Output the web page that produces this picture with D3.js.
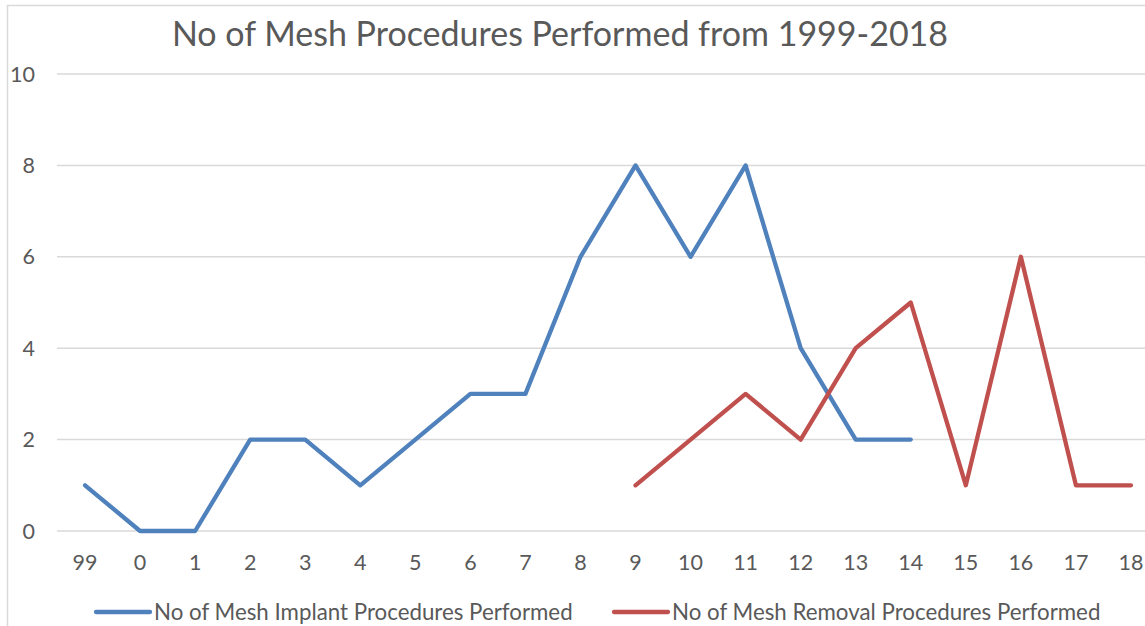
<!DOCTYPE html>
<meta charset="utf-8">
<style>
  body { margin: 0; background: #fff; }
  text { font-family: Lato, "Open Sans", sans-serif; fill: #595959; }
</style>
<svg width="1145" height="626"></svg>
<script src="https://d3js.org/d3.v7.min.js"></script>
<script>

var years = ["99", "0", "1", "2", "3", "4", "5", "6", "7", "8", "9",
             "10", "11", "12", "13", "14", "15", "16", "17", "18"];

var implants = [1, 0, 0, 2, 2, 1, 2, 3, 3, 6, 8, 6, 8, 4, 2, 2, null, null, null, null];
var removals = [null, null, null, null, null, null, null, null, null, null, 1, 2, 3, 2, 4, 5, 1, 6, 1, 1];

var yTicks = [0, 2, 4, 6, 8, 10];

var series = [
  { name: "No of Mesh Implant Procedures Performed", values: implants, color: "#4f81bd" },
  { name: "No of Mesh Removal Procedures Performed", values: removals, color: "#c0504d" }
];

var svg = d3.select("svg");

// chart frame (right and bottom fall outside the picture)
svg.append("rect")
    .attr("x", 7.5).attr("y", 5.5)
    .attr("width", 1200).attr("height", 700)
    .attr("fill", "none")
    .attr("stroke", "#d9d9d9")
    .attr("stroke-width", 1.5);

var x = d3.scaleBand()
    .domain(years)
    .range([57.5, 57.5 + 20 * 55.05]);

var y = d3.scaleLinear()
    .domain([0, 10])
    .range([531, 74]);

// gridlines
svg.append("g")
  .selectAll("line")
  .data(yTicks)
  .join("line")
    .attr("x1", 57).attr("x2", 1145)
    .attr("y1", function(d) { return y(d); })
    .attr("y2", function(d) { return y(d); })
    .attr("stroke", "#d9d9d9")
    .attr("stroke-width", 1.5);

// y labels
svg.append("g")
  .selectAll("text")
  .data(yTicks)
  .join("text")
    .attr("x", 35)
    .attr("y", function(d) { return y(d) + 7.5; })
    .attr("text-anchor", "end")
    .attr("font-size", 21.5)
    .text(function(d) { return d; });

// x labels
svg.append("g")
  .selectAll("text")
  .data(years)
  .join("text")
    .attr("x", function(d) { return x(d) + x.bandwidth() / 2; })
    .attr("y", 570)
    .attr("text-anchor", "middle")
    .attr("font-size", 21.5)
    .text(function(d) { return d; });

var line = d3.line()
    .defined(function(d) { return d != null; })
    .x(function(d, i) { return x(years[i]) + x.bandwidth() / 2; })
    .y(function(d) { return y(d); });

svg.append("g")
  .selectAll("path")
  .data(series)
  .join("path")
    .attr("d", function(d) { return line(d.values); })
    .attr("fill", "none")
    .attr("stroke", function(d) { return d.color; })
    .attr("stroke-width", 4.3)
    .attr("stroke-linejoin", "round")
    .attr("stroke-linecap", "round");

// title
svg.append("text")
    .attr("x", 560)
    .attr("y", 46)
    .attr("text-anchor", "middle")
    .attr("font-size", 34)
    .text("No of Mesh Procedures Performed from 1999-2018");

// legend
var legendX = [96, 614];
var legend = svg.append("g")
  .selectAll("g")
  .data(series)
  .join("g")
    .attr("transform", function(d, i) { return "translate(" + legendX[i] + ",612)"; });

legend.append("line")
    .attr("x1", 0).attr("x2", 54)
    .attr("stroke", function(d) { return d.color; })
    .attr("stroke-width", 4.3)
    .attr("stroke-linecap", "round");

legend.append("text")
    .attr("x", 58)
    .attr("y", 7.5)
    .attr("font-size", 22.3)
    .text(function(d) { return d.name; });

</script>
